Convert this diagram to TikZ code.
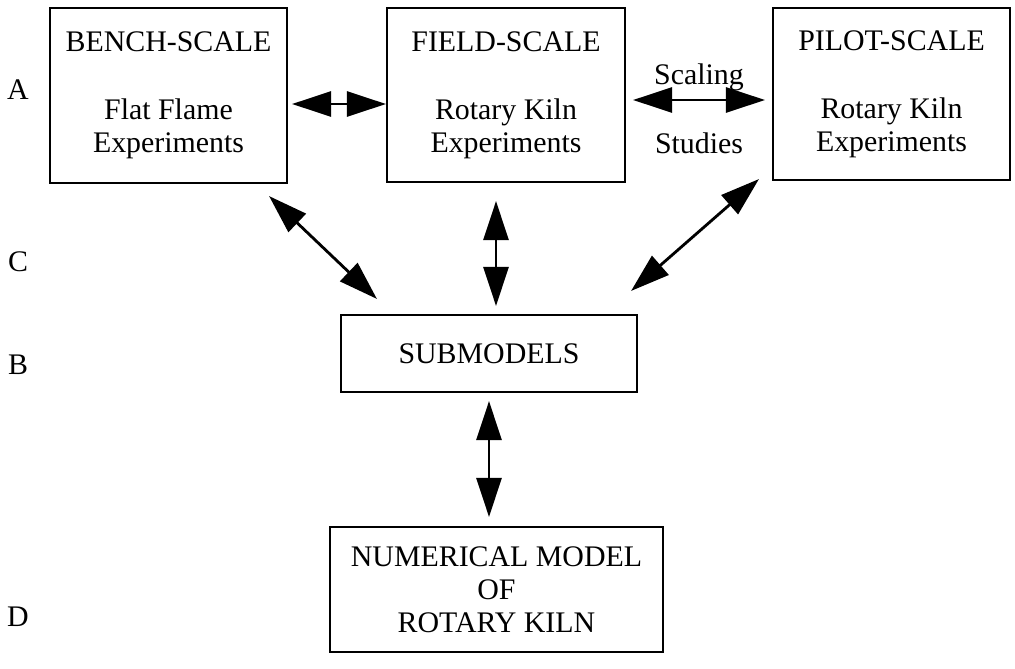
\documentclass[tikz,border=0pt]{standalone}
\usepackage{fontspec}
\setmainfont{Liberation Serif}
\usetikzlibrary{arrows.meta}

\begin{document}
\begin{tikzpicture}[>={Triangle[length=0.78cm, width=0.5cm]},
  font=\fontsize{17}{18.8}\selectfont,
  scalebox/.style={draw, line width=1.2pt, align=center, inner sep=0pt},
  link/.style={<->, line width=1.6pt}]

\useasboundingbox (0,0) rectangle (20.3,-13.36);

\node[scalebox, minimum width=4.74cm, minimum height=3.5cm] (bench) at (3.37,-1.91)
{BENCH-SCALE\\[0.7cm]Flat Flame\\Experiments};

\node[scalebox, minimum width=4.76cm, minimum height=3.48cm] (field) at (10.12,-1.9)
{FIELD-SCALE\\[0.7cm]Rotary Kiln\\Experiments};

\node[scalebox, minimum width=4.74cm, minimum height=3.44cm] (pilot) at (17.83,-1.88)
{PILOT-SCALE\\[0.7cm]Rotary Kiln\\Experiments};

\node[scalebox, minimum width=5.92cm, minimum height=1.54cm] (submodels) at (9.78,-7.07)
{SUBMODELS};

\node[scalebox, minimum width=6.66cm, minimum height=2.5cm] (nummodel) at (9.93,-11.79)
{NUMERICAL MODEL\\OF\\ROTARY KILN};

% row letters
\node (lblA) at (0.36,-1.8) {A};
\node (lblC) at (0.36,-5.24) {C};
\node (lblB) at (0.36,-7.3) {B};
\node (lblD) at (0.36,-12.34) {D};

\draw[link, shorten <=0.08cm] ([yshift=-0.17cm]bench.east) -- ([yshift=-0.17cm]bench.east -| field.west);
\draw[link, shorten <=0.14cm, shorten >=0.14cm] ([yshift=-0.1cm]field.east) -- ([yshift=-0.1cm]field.east -| pilot.west)
  node[midway, yshift=0.46cm] {Scaling}
  node[midway, yshift=-0.86cm] {Studies};
\draw[link] ([xshift=-0.38cm, yshift=-0.24cm]bench.south east) -- ([xshift=0.74cm, yshift=0.3cm]submodels.north west);
\draw[link, shorten <=0.36cm, shorten >=0.16cm] ([xshift=-0.2cm]field.south) -- ([xshift=-0.2cm]field.south |- submodels.north);
\draw[link] ([xshift=-0.26cm, yshift=0.04cm]pilot.south west) -- ([xshift=-0.14cm, yshift=0.46cm]submodels.north east);
\draw[link, shorten <=0.16cm, shorten >=0.18cm] (submodels.south) -- (submodels.south |- nummodel.north);
\end{tikzpicture}
\end{document}
